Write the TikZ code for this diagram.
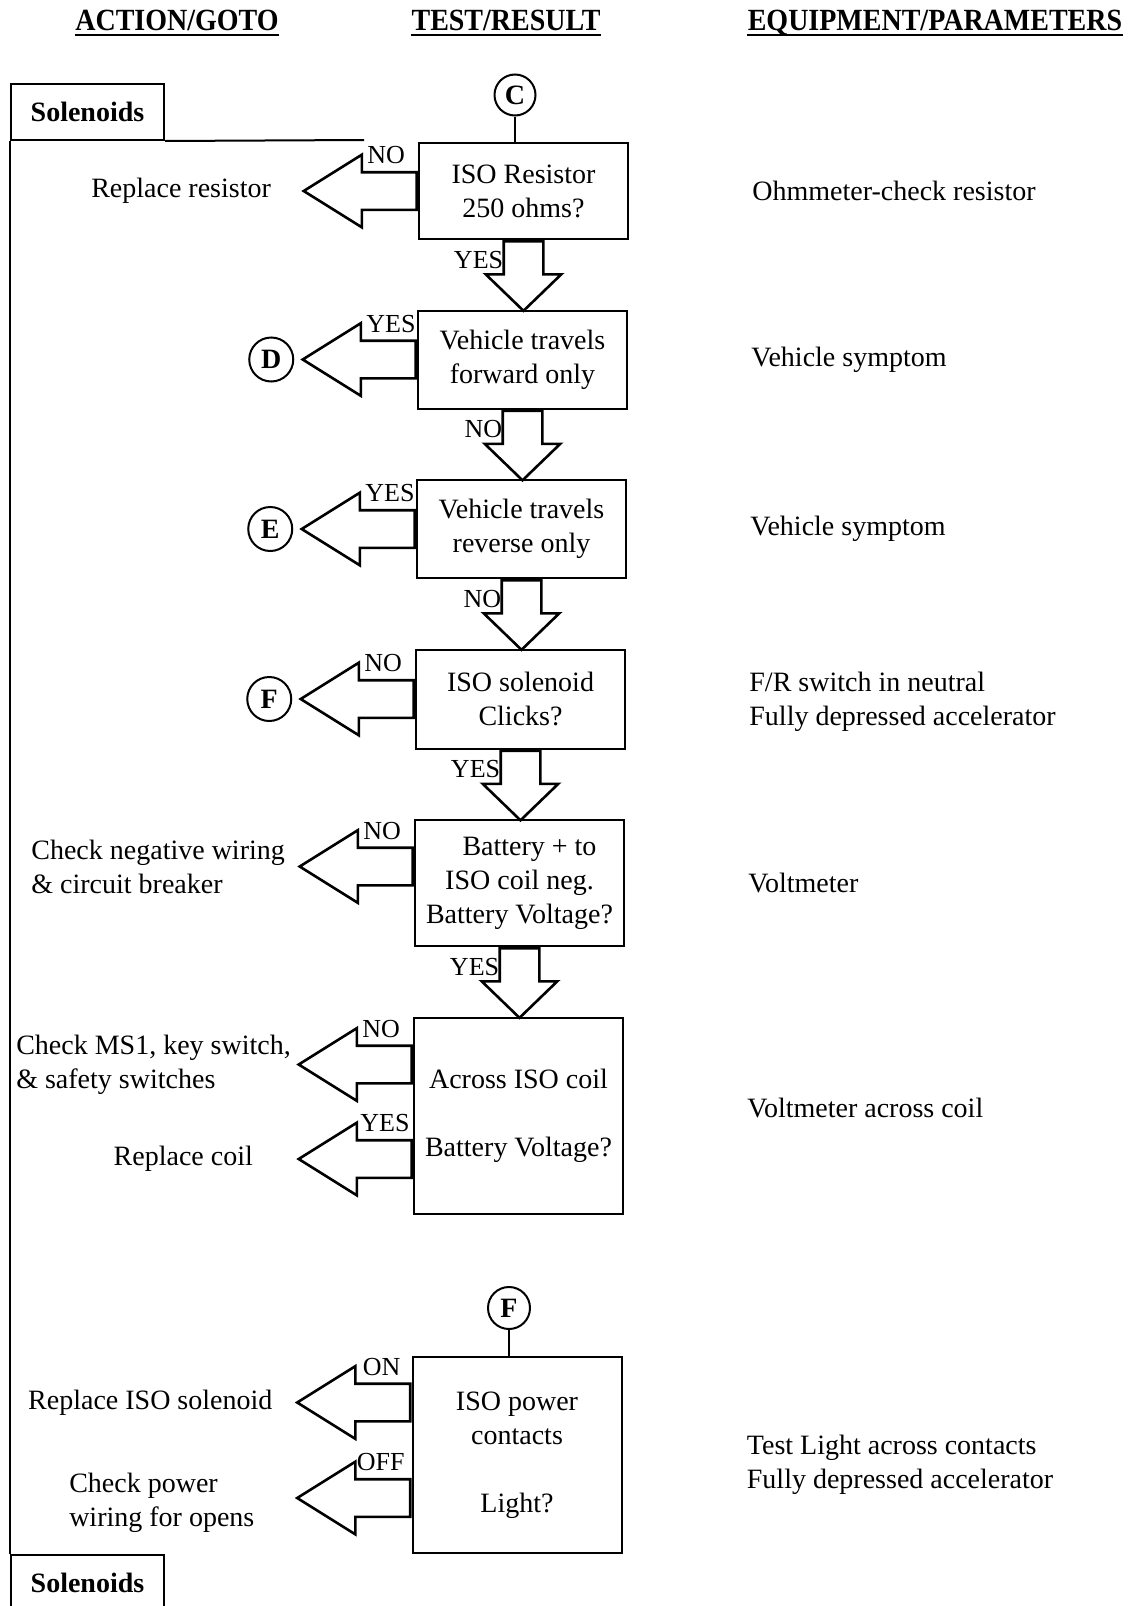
\documentclass[tikz,border=0pt]{standalone}
\usepackage{fontspec}
\setmainfont{Liberation Serif}
\usepackage{graphicx}
\usetikzlibrary{positioning, calc, shapes.arrows}

\newcommand{\bodyfont}{\fontsize{14}{17}\selectfont}
\newcommand{\tagfont}{\fontsize{13}{15}\selectfont}
\newcommand{\boldfont}{\fontsize{14}{17}\selectfont\bfseries}

\tikzset{
  test/.style    = {draw, line width=1pt, minimum width=104.5pt, inner sep=0pt,
                    align=center, font=\bodyfont},
  tab/.style     = {draw, line width=1pt, minimum width=76.5pt, minimum height=28pt,
                    inner sep=0pt, font=\boldfont},
  goto/.style    = {draw, circle, line width=1pt, minimum size=22pt, inner sep=0pt,
                    font=\boldfont},
  larrow/.style  = {single arrow, draw, line width=1.3pt, anchor=tail,
                    shape border rotate=180, minimum height=56.5pt, minimum width=35pt,
                    single arrow head extend=8.75pt, single arrow tip angle=64,
                    inner sep=8.75pt},
  darrow/.style  = {single arrow, draw, line width=1.3pt, anchor=tail,
                    shape border rotate=270, minimum height=34.75pt, minimum width=36.5pt,
                    single arrow head extend=9pt, single arrow tip angle=92,
                    inner sep=9.25pt},
  tag/.style     = {font=\tagfont, inner sep=0pt, anchor=base west},
  txt/.style     = {font=\bodyfont, inner sep=0pt, align=left},
  heading/.style = {font=\boldfont, inner sep=0pt, anchor=base},
  wire/.style    = {line width=1pt}
}

\begin{document}
\begin{tikzpicture}[x=0.5pt, y=-0.5pt]
  \useasboundingbox (0,0) rectangle (1130,1606);

  % column headings
  \node[heading] (hact)   at (177,30.5) {\scalebox{1}[1.1]{ACTION/GOTO}};
  \node[heading] (htest)  at (506,30.5) {\scalebox{1}[1.1]{TEST/RESULT}};
  \node[heading] (hequip) at (935,30.5) {\scalebox{1}[1.1]{EQUIPMENT/PARAMETERS}};
  \foreach \h in {hact, htest, hequip}
    \draw[wire] ($(\h.base west)+(0,4.5)$) -- ($(\h.base east)+(0,4.5)$);

  % solenoid tabs and frame
  \node[tab] (sol1) at (87.5,112) {Solenoids};
  \node[tab] (sol2) at (87.5,1583) {Solenoids};
  \coordinate (wireend) at (364,140);
  \draw[wire] (sol1.south east) -- (wireend);
  \draw[wire] (sol1.south west) -- (sol2.north west);

  % tests
  \node[test, minimum height=48pt] (t1) at (523.5,191) {ISO Resistor\\250 ohms?};
  \node[test, minimum height=49pt, below=34.75pt of t1, xshift=-0.5pt] (t2)
    {Vehicle travels\\forward only};
  \node[test, minimum height=49pt, below=34.75pt of t2, xshift=-0.5pt] (t3)
    {Vehicle travels\\reverse only};
  \node[test, minimum height=49.5pt, below=34.75pt of t3, xshift=-0.5pt] (t4)
    {ISO solenoid\\Clicks?};
  \node[test, minimum height=63pt, below=34.75pt of t4, xshift=-0.5pt] (t5)
    {\hspace*{10pt}Battery + to\\ISO coil neg.\\Battery Voltage?};
  \node[test, minimum height=98pt, below=34.75pt of t5, xshift=-0.5pt] (t6)
    {Across ISO coil\\[17pt]Battery Voltage?};
  \node[test, minimum height=98pt] (t7) at (517,1455)
    {ISO power\\contacts\\[17pt]Light?};

  % entry points
  \node[goto, minimum size=20.5pt] (C) at (515,95) {C};
  \draw[wire] (C) -- (C |- t1.north);
  \node[goto, minimum size=21pt] (Fb) at (509,1308) {F};
  \draw[wire] (Fb) -- (Fb |- t7.north);

  % down arrows
  \node[darrow] (d1) at (t1.south) {};
  \node[darrow] (d2) at (t2.south) {};
  \node[darrow] (d3) at (t3.south) {};
  \node[darrow] (d4) at (t4.south) {};
  \node[darrow] (d5) at (t5.south) {};
  \node[tag, anchor=base east] (td1) at ($(d1.tail)+(-20,28)$) {YES};
  \node[tag, anchor=base east] (td2) at ($(d2.tail)+(-20,28)$) {NO};
  \node[tag, anchor=base east] (td3) at ($(d3.tail)+(-20,28)$) {NO};
  \node[tag, anchor=base east] (td4) at ($(d4.tail)+(-20,28)$) {YES};
  \node[tag, anchor=base east] (td5) at ($(d5.tail)+(-20,28)$) {YES};

  % left arrows
  \node[larrow] (l1) at (t1.west) {};
  \node[larrow] (l2) at (t2.west) {};
  \node[larrow] (l3) at (t3.west) {};
  \node[larrow] (l4) at (t4.west) {};
  \node[larrow] (l5) at ($(t5.west)+(0,-16.5)$) {};
  \node[larrow] (l6) at ($(t6.west)+(0,-51)$) {};
  \node[larrow] (l6b) at ($(t6.west)+(0,43.5)$) {};
  \node[larrow] (l7) at ($(t7.west)+(0,-52.5)$) {};
  \node[larrow] (l7b) at ($(t7.west)+(0,43)$) {};
  \node[tag] (tl1)  at ($(l1.tail)+(-51,-27.5)$) {NO};
  \node[tag] (tl2)  at ($(l2.tail)+(-51,-27.5)$) {YES};
  \node[tag] (tl3)  at ($(l3.tail)+(-51,-27.5)$) {YES};
  \node[tag] (tl4)  at ($(l4.tail)+(-51,-27.5)$) {NO};
  \node[tag] (tl5)  at ($(l5.tail)+(-51,-27.5)$) {NO};
  \node[tag] (tl6)  at ($(l6.tail)+(-51,-27.5)$) {NO};
  \node[tag] (tl6b) at ($(l6b.tail)+(-53,-27.5)$) {YES};
  \node[tag] (tl7)  at ($(l7.tail)+(-49,-27.5)$) {ON};
  \node[tag] (tl7b) at ($(l7b.tail)+(-55,-27.5)$) {OFF};

  % actions
  \node[txt, left=15pt of l1.tip] (a1) {Replace resistor};
  \node[goto, left=3pt of l2.tip] (D) {D};
  \node[goto, left=3pt of l3.tip] (E) {E};
  \node[goto, left=3pt of l4.tip] (Fa) {F};
  \node[txt, left=6pt of l5.tip] (a5) {Check negative wiring\\\& circuit breaker};
  \node[txt, left=2.5pt of l6.tip] (a6) {Check MS1, key switch,\\\& safety switches};
  \node[txt, left=21.5pt of l6b.tip] (a6b) {Replace coil};
  \node[txt, left=11pt of l7.tip] (a7) {Replace ISO solenoid};
  \node[txt, left=20pt of l7b.tip, yshift=-2.5pt] (a7b) {Check power\\wiring for opens};

  % equipment
  \node[txt, right=61.5pt of t1] (e1) {Ohmmeter-check resistor};
  \node[txt, right=61.5pt of t2] (e2) {Vehicle symptom};
  \node[txt, right=61.5pt of t3] (e3) {Vehicle symptom};
  \node[txt, right=61.5pt of t4, yshift=-1.5pt] (e4)
    {F/R switch in neutral\\Fully depressed accelerator};
  \node[txt, right=61.5pt of t5] (e5) {Voltmeter};
  \node[txt, right=61.5pt of t6, yshift=4pt] (e6) {Voltmeter across coil};
  \node[txt, right=62pt of t7, yshift=-4.75pt] (e7)
    {Test Light across contacts\\Fully depressed accelerator};
\end{tikzpicture}
\end{document}
